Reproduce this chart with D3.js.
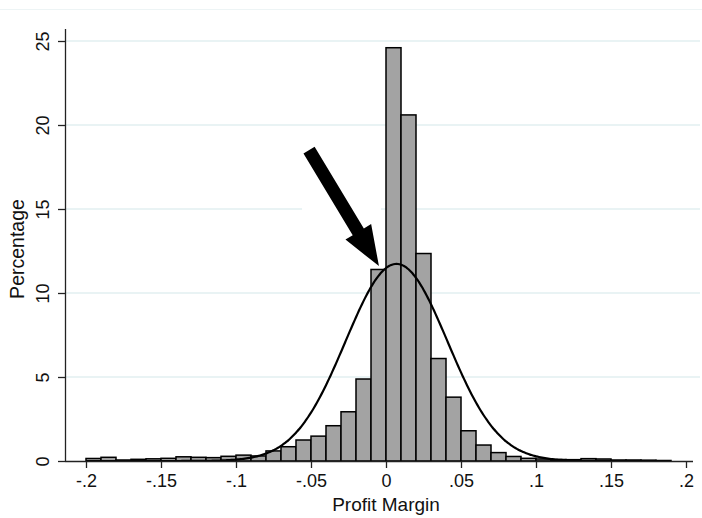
<!DOCTYPE html>
<meta charset="utf-8">
<html>
<head>
	<script src="https://cdnjs.cloudflare.com/ajax/libs/d3/7.8.5/d3.min.js"></script>
	<style>
		body { margin: 0; background: #fff; }
		svg { display: block; font-family: "Liberation Sans", Arial, sans-serif; }
	</style>
</head>
<body>
	<div id="chart"></div>
	<script>
	// histogram bins: left edge of each bin, width .01
	var binStarts = [-0.20,-0.19,-0.18,-0.17,-0.16,-0.15,-0.14,-0.13,-0.12,-0.11,
		-0.10,-0.09,-0.08,-0.07,-0.06,-0.05,-0.04,-0.03,-0.02,-0.01,
		0.00,0.01,0.02,0.03,0.04,0.05,0.06,0.07,0.08,0.09,
		0.10,0.11,0.12,0.13,0.14,0.15,0.16,0.17,0.18];
	var binPercent = [0.15,0.22,0.06,0.10,0.13,0.16,0.25,0.22,0.20,0.28,
		0.35,0.30,0.60,0.85,1.25,1.48,2.10,2.93,4.88,11.4,
		24.6,20.6,12.35,6.1,3.8,1.8,0.95,0.5,0.27,0.16,
		0.12,0.09,0.08,0.14,0.12,0.06,0.06,0.05,0.03];
	var binWidth = 0.01;

	var xTicks = [-0.2,-0.15,-0.1,-0.05,0,0.05,0.1,0.15,0.2];
	var xTickLabels = ["-.2","-.15","-.1","-.05","0",".05",".1",".15",".2"];
	var yTicks = [0,5,10,15,20,25];

	// overlaid normal density (mean, sd)
	var normMean = 0.007;
	var normSd = 0.034;
	var curveRange = [-0.2, 0.19];

	// arrow annotation, tail and tip in data units
	var arrowTail = [-0.0513, 18.5];
	var arrowTip = [-0.0047, 11.6];

	var svgWidth = 702, svgHeight = 518;
	var font = "Liberation Sans, Arial, sans-serif";

	var x = d3.scaleLinear().domain([-0.2, 0.2]).range([86, 686]);
	var y = d3.scaleLinear().domain([0, 25]).range([461, 41]);

	var svg = d3.select("#chart").append("svg")
		.attr("width", svgWidth)
		.attr("height", svgHeight);

	// faint outer frame line at top
	svg.append("line")
		.attr("x1", 0).attr("x2", svgWidth)
		.attr("y1", 9.5).attr("y2", 9.5)
		.attr("stroke", "#edf4f5").attr("stroke-width", 1);

	// gridlines
	svg.append("g").selectAll("line")
		.data(yTicks.filter(function(d) { return d > 0; }))
		.enter().append("line")
			.attr("x1", 66).attr("x2", 700)
			.attr("y1", function(d) { return y(d); })
			.attr("y2", function(d) { return y(d); })
			.attr("stroke", "#e2eff0")
			.attr("stroke-width", 1.5);

	// white patch behind the arrow (the pasted arrow covers the grid)
	svg.append("rect")
		.attr("x", x(arrowTail[0]) - 7).attr("y", y(arrowTail[1]) - 8)
		.attr("width", x(arrowTip[0]) - x(arrowTail[0]) + 9)
		.attr("height", y(arrowTip[1]) - y(arrowTail[1]) + 12)
		.attr("fill", "#fff");

	// bars
	svg.append("g").selectAll("rect")
		.data(binStarts)
		.enter().append("rect")
			.attr("x", function(d) { return x(d); })
			.attr("width", function(d) { return x(d + binWidth) - x(d); })
			.attr("y", function(d, i) { return y(binPercent[i]); })
			.attr("height", function(d, i) { return y(0) - y(binPercent[i]); })
			.attr("fill", "#a3a3a3")
			.attr("stroke", "#000")
			.attr("stroke-width", 1.5);

	// normal curve
	var pts = d3.range(curveRange[0], curveRange[1] + 1e-9, 0.001);
	var line = d3.line()
		.x(function(d) { return x(d); })
		.y(function(d) {
			var z = (d - normMean) / normSd;
			// density * bin width * 100 -> percent per bin
			return y(Math.exp(-0.5 * z * z) / (normSd * Math.sqrt(2 * Math.PI)) * binWidth * 100);
		})
		.curve(d3.curveBasis);
	svg.append("path")
		.datum(pts)
		.attr("d", line)
		.attr("fill", "none")
		.attr("stroke", "#000")
		.attr("stroke-width", 2.2);

	// axes
	var xAxis = d3.axisBottom(x)
		.tickValues(xTicks)
		.tickSize(7)
		.tickPadding(6)
		.tickFormat(function(d, i) { return xTickLabels[i]; });
	var gx = svg.append("g")
		.attr("transform", "translate(0," + y(0) + ")")
		.call(xAxis);
	gx.select(".domain").attr("d", "M65,0.5H693");
	gx.selectAll("text").attr("font-size", 18).attr("fill", "#111")
		.attr("font-family", font);

	var yAxis = d3.axisLeft(y)
		.tickValues(yTicks)
		.tickSize(7);
	var gy = svg.append("g")
		.attr("transform", "translate(65,0)")
		.call(yAxis);
	gy.select(".domain").attr("d", "M0.5,29V" + (y(0) + 0.5));
	// Stata style vertical tick labels
	gy.selectAll(".tick text")
		.attr("font-size", 18).attr("fill", "#111")
		.attr("font-family", font)
		.attr("text-anchor", "middle")
		.attr("x", 0).attr("y", 0)
		.attr("dy", "0.35em")
		.attr("transform", "translate(-22,0) rotate(-90)");
	svg.selectAll(".domain, .tick line").attr("stroke", "#222").attr("stroke-width", 1.3);

	// axis titles
	svg.append("text")
		.attr("x", x(0)).attr("y", 511)
		.attr("text-anchor", "middle")
		.attr("font-size", 19).attr("fill", "#111")
		.text("Profit Margin");
	svg.append("text")
		.attr("transform", "translate(24,249) rotate(-90)")
		.attr("text-anchor", "middle")
		.attr("font-size", 19.5).attr("fill", "#111")
		.text("Percentage");

	// arrow
	var tx = x(arrowTail[0]), ty = y(arrowTail[1]);
	var hx = x(arrowTip[0]), hy = y(arrowTip[1]);
	var len = Math.sqrt((hx - tx) * (hx - tx) + (hy - ty) * (hy - ty));
	var ang = Math.atan2(hy - ty, hx - tx) * 180 / Math.PI;
	var shaftW = 6.5, headW = 15, headL = 40;
	svg.append("path")
		.attr("transform", "translate(" + tx + "," + ty + ") rotate(" + ang + ")")
		.attr("d", "M0," + (-shaftW) + "L" + (len - headL) + "," + (-shaftW) +
			"L" + (len - headL) + "," + (-headW) + "L" + len + ",0" +
			"L" + (len - headL) + "," + headW + "L" + (len - headL) + "," + shaftW +
			"L0," + shaftW + "Z")
		.attr("fill", "#000");
	</script>
</body>
</html>
